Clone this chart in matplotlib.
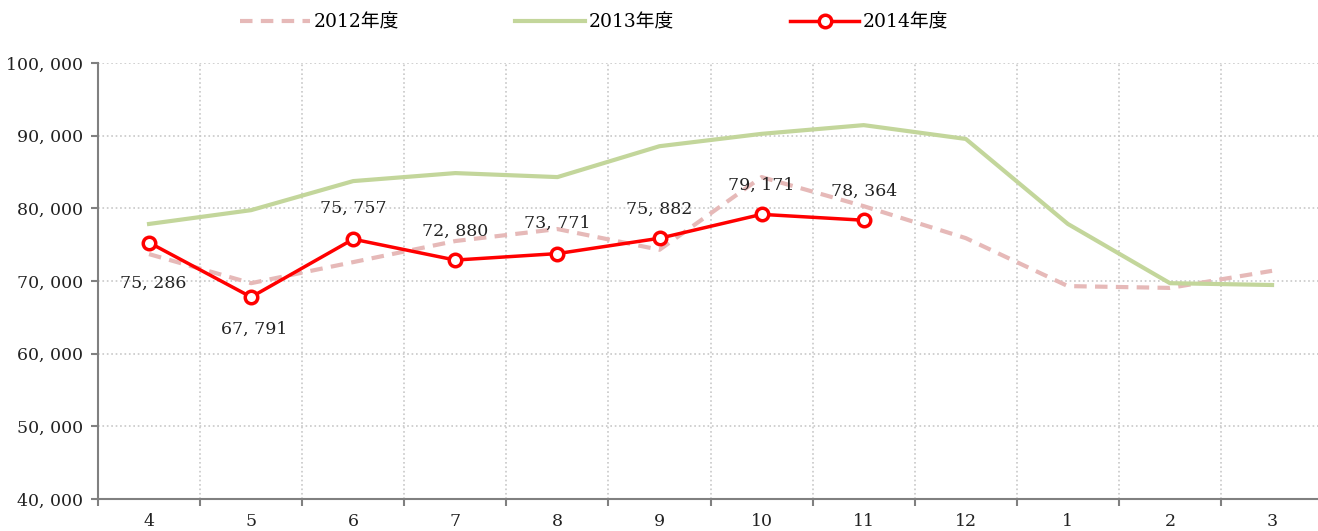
import numpy as np
import matplotlib.pyplot as plt
from matplotlib.ticker import FuncFormatter, FixedLocator

plt.rcParams['font.family'] = ['DejaVu Serif', 'Noto Sans CJK JP']

# data
months = ['4', '5', '6', '7', '8', '9', '10', '11', '12', '1', '2', '3']
fy2012 = [73700, 69700, 72600, 75500, 77150, 74300, 84300, 80300, 75900, 69300, 69050, 71400]
fy2013 = [77850, 79750, 83750, 84850, 84300, 88550, 90250, 91450, 89550, 77850, 69700, 69450]
fy2014 = [75286, 67791, 75757, 72880, 73771, 75882, 79171, 78364]
# label offsets in points (dx, dy)
lbl_off = [(3, -29), (2, -23), (0, 22), (0, 21), (0, 22), (0, 21), (0, 21), (0, 21)]

x = np.arange(len(months))
x14 = np.arange(len(fy2014))

f = plt.figure(figsize=(13.18, 5.31), dpi=100)
ax = f.add_axes([98/1318, 1-499/531, 1-98/1318, (499-63)/531])

l1, = ax.plot(x, fy2012, '--', color='#E6B9B8', lw=3, dashes=(3, 2), label='2012年度')
l2, = ax.plot(x, fy2013, '-', color='#C3D69B', lw=3, label='2013年度')
l3, = ax.plot(x14, fy2014, '-', color='#FF0000', lw=2.5, marker='o', ms=9,
              mfc='white', mec='#FF0000', mew=2.5, label='2014年度')

for i in range(len(fy2014)):
    ax.annotate('{:,}'.format(fy2014[i]).replace(',', ', '), (x14[i], fy2014[i]),
                xytext=lbl_off[i], textcoords='offset points', ha='center', va='center',
                fontsize=12.5, color='#222222')

ax.set_xlim(-0.5, 11.45)
ax.set_ylim(40000, 100000)
ax.set_yticks(np.arange(40000, 100001, 10000))
ax.yaxis.set_major_formatter(FuncFormatter(lambda v, p: '{:,}'.format(int(v)).replace(',', ', ')))
ax.set_xticks(x)
ax.set_xticklabels(months)
ax.xaxis.set_minor_locator(FixedLocator(np.arange(-0.5, 11.5, 1)))
ax.tick_params(axis='x', which='major', length=0, pad=10, labelsize=12.5, colors='#222222')
ax.tick_params(axis='x', which='minor', length=5, width=1.5, color='#808080')
ax.tick_params(axis='y', length=5, width=1.5, color='#808080', labelsize=12.5, labelcolor='#222222', pad=6)

ax.grid(True, axis='y', which='major', ls=':', color='#C8C8C8', lw=1.2)
ax.grid(True, axis='x', which='minor', ls=':', color='#C8C8C8', lw=1.2)
for s in ['top', 'right']:
    ax.spines[s].set_visible(False)
for s in ['left', 'bottom']:
    ax.spines[s].set_color('#808080')
    ax.spines[s].set_linewidth(1.5)

f.legend(handles=[l1, l2, l3], loc='center', bbox_to_anchor=(0.451, 0.958), ncol=3,
         frameon=False, fontsize=13.5, handlelength=3.7, columnspacing=6.2, handletextpad=0.2)

plt.savefig('out.png')
